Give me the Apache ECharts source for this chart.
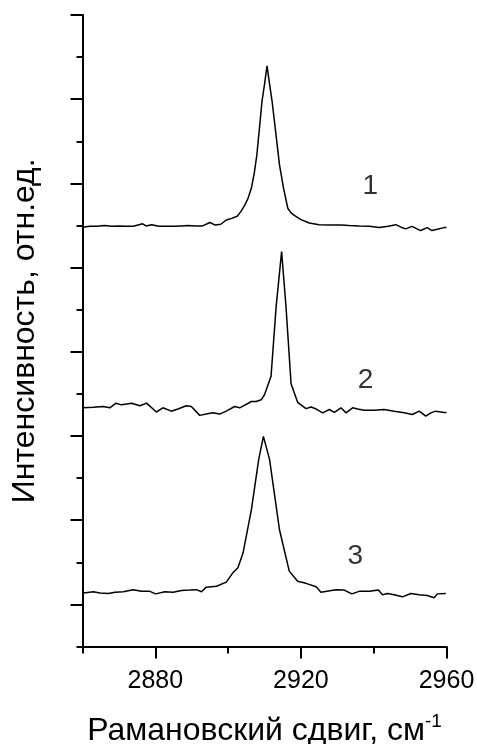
<!DOCTYPE html>
<html><head><meta charset="utf-8">
<script src="https://cdn.jsdelivr.net/npm/echarts@6/dist/echarts.min.js"></script>
<style>html,body{margin:0;padding:0;background:#fff}#c{width:477px;height:744px}</style>
</head><body><div id="c"></div>
<script>
// Raman shift (cm-1) / intensity (arb. units, vertically offset traces)
const spectrum1 = [
 [2860,9.96],[2862,9.98],[2864,9.98],[2866,10.00],[2868,9.98],[2870,9.99],[2872,9.98],[2874,9.98],
 [2876.5,10.04],[2877.5,9.99],[2879,10.02],[2881,9.98],[2883,9.98],[2885,9.98],[2887,9.99],[2889,10.00],
 [2891,9.99],[2893,9.99],[2895,10.07],[2896.5,10.01],[2898,10.03],[2899.5,10.13],[2901,10.17],[2902.5,10.22],
 [2903.5,10.33],[2904.5,10.47],[2905.5,10.65],[2906.4,10.89],[2907.2,11.25],[2907.9,11.68],[2908.6,12.30],
 [2909.3,12.94],[2910,13.35],[2910.7,13.79],[2911.4,13.35],[2912.1,12.94],[2913.1,12.20],[2914.1,11.45],
 [2915.2,10.90],[2916.4,10.41],[2917.3,10.30],[2918.2,10.24],[2920,10.14],[2922.3,10.06],[2925,10.02],
 [2928,10.01],[2931,10.01],[2933.3,10.00],[2936,9.99],[2938.8,9.98],[2941.5,9.95],[2944,9.98],[2946.1,10.02],
 [2947.5,9.96],[2948.8,9.92],[2950.5,9.98],[2952.9,9.88],[2954.7,9.95],[2956,9.88],[2957.5,9.91],[2959.3,9.95],[2960,9.95]
];
const spectrum2 = [
 [2860.2,5.67],[2863.0,5.68],[2865.7,5.70],[2867.5,5.67],[2869.2,5.78],[2870.7,5.74],[2873.5,5.78],[2875.8,5.72],
 [2877.6,5.78],[2880.3,5.57],[2882.1,5.67],[2884.4,5.59],[2886.2,5.64],[2888.5,5.72],[2889.9,5.70],[2892.2,5.49],
 [2894.0,5.52],[2895.8,5.55],[2897.7,5.52],[2899.5,5.59],[2901.8,5.70],[2903.2,5.67],[2906.4,5.82],[2907.7,5.82],
 [2908.2,5.81],[2909.1,5.86],[2910.0,5.98],[2911.8,6.42],[2913.2,8.08],[2914.7,9.38],[2915.9,8.08],[2917.3,6.24],
 [2919.1,5.80],[2921.4,5.65],[2922.8,5.69],[2924.2,5.64],[2926.0,5.55],[2927.8,5.63],[2929.2,5.56],[2931.0,5.67],
 [2932.4,5.55],[2934.2,5.67],[2935.6,5.64],[2937.4,5.61],[2940.1,5.61],[2942.9,5.63],[2945.6,5.59],[2948.4,5.55],
 [2950.6,5.51],[2952.5,5.59],[2954.3,5.47],[2955.7,5.55],[2957.0,5.59],[2959.3,5.56],[2960,5.56]
];
const spectrum3 = [
 [2860.2,1.27],[2863.0,1.30],[2864.8,1.27],[2867.1,1.26],[2868.9,1.29],[2871.2,1.30],[2873.9,1.35],[2876.2,1.31],
 [2878.5,1.31],[2880.1,1.25],[2882.6,1.30],[2884.9,1.29],[2887.2,1.33],[2889.5,1.34],[2891.3,1.35],[2892.7,1.30],
 [2894.0,1.41],[2896.8,1.43],[2899.5,1.53],[2901.3,1.75],[2902.7,1.87],[2904.1,2.22],[2906.4,3.25],[2908.4,4.44],
 [2909.7,4.99],[2911.4,4.44],[2914.1,2.78],[2916.8,1.79],[2919.1,1.55],[2921.4,1.50],[2924.2,1.42],[2925.5,1.29],
 [2929.6,1.35],[2931.9,1.34],[2934.0,1.25],[2936.0,1.31],[2938.8,1.31],[2941.3,1.34],[2942.4,1.23],[2943.8,1.26],
 [2945.6,1.23],[2947.9,1.18],[2950.2,1.26],[2952.5,1.23],[2954.7,1.21],[2956.6,1.16],[2957.5,1.25],[2959.8,1.26]
];
const curveLabels = ['1','2','3'];
const curveLabelX = [2939.2, 2937.9, 2935.1];
const curveLabelY = [10.93, 6.30, 2.14];
const xTickLabels = [2880, 2920, 2960];
const yMajorTicks = [1,3,5,7,9,11,13,15];

const FONT = 'Liberation Sans, Arial, sans-serif';
const black = '#000';
const chart = echarts.init(document.getElementById('c'), null, {renderer:'canvas'});
const labelData = curveLabels.map((t,i)=>({value:[curveLabelX[i], curveLabelY[i]], name:t}));
chart.setOption({
  animation:false,
  backgroundColor:'#fff',
  textStyle:{fontFamily:FONT, color:black},
  grid:{left:82.5, right:30.5, top:15, bottom:97.5, containLabel:false, outerBoundsMode:'none'},
  xAxis:[
    {type:'value', min:2860, max:2960, interval:20, position:'bottom',
     axisLine:{show:true, onZero:false, lineStyle:{color:black, width:2}},
     axisTick:{show:true, inside:false, length:7, lineStyle:{color:black, width:2}},
     axisLabel:{show:true, customValues:xTickLabels, margin:22,
       formatter:function(v){return String(Math.round(v));},
       color:black, fontSize:25, fontFamily:FONT},
     splitLine:{show:false},
     name:'Рамановский сдвиг, см{sup|-1}', nameLocation:'middle', nameGap:66,
     nameTextStyle:{color:black, fontSize:32, fontFamily:FONT,
       rich:{sup:{fontSize:19, color:black, fontFamily:FONT, verticalAlign:'top', padding:[0,0,18,0]}}}
    },
    {type:'value', min:2860, max:2960, position:'bottom', offset:0,
     axisLine:{show:false}, axisLabel:{show:false}, splitLine:{show:false},
     axisTick:{show:true, inside:false, length:12, customValues:xTickLabels, lineStyle:{color:black, width:2}}}
  ],
  yAxis:[
    {type:'value', min:0, max:15, interval:1, position:'left', offset:0,
     axisLine:{show:true, onZero:false, lineStyle:{color:black, width:2}},
     axisTick:{show:true, inside:false, length:6, lineStyle:{color:black, width:2}},
     axisLabel:{show:false}, splitLine:{show:false},
     name:'Интенсивность, отн.ед.', nameLocation:'middle', nameGap:41, nameRotate:90,
     nameTextStyle:{color:black, fontSize:32, fontFamily:FONT}},
    {type:'value', min:0, max:15, position:'left', offset:0,
     axisLine:{show:false}, axisLabel:{show:false}, splitLine:{show:false},
     axisTick:{show:true, inside:false, length:12, customValues:yMajorTicks, lineStyle:{color:black, width:2}}}
  ],
  series:[
    {type:'line', data:spectrum1, symbol:'none', lineStyle:{color:black, width:1.5}, xAxisIndex:0, yAxisIndex:0},
    {type:'line', data:spectrum2, symbol:'none', lineStyle:{color:black, width:1.5}, xAxisIndex:0, yAxisIndex:0},
    {type:'line', data:spectrum3, symbol:'none', lineStyle:{color:black, width:1.5}, xAxisIndex:0, yAxisIndex:0},
    {type:'scatter', data:labelData, symbolSize:1, itemStyle:{color:'rgba(0,0,0,0)'}, silent:true,
     label:{show:true, position:[0,0], align:'center', verticalAlign:'middle', formatter:p=>p.name,
       color:black, fontSize:28, fontFamily:FONT, textBorderWidth:0}}
  ]
});
</script></body></html>
